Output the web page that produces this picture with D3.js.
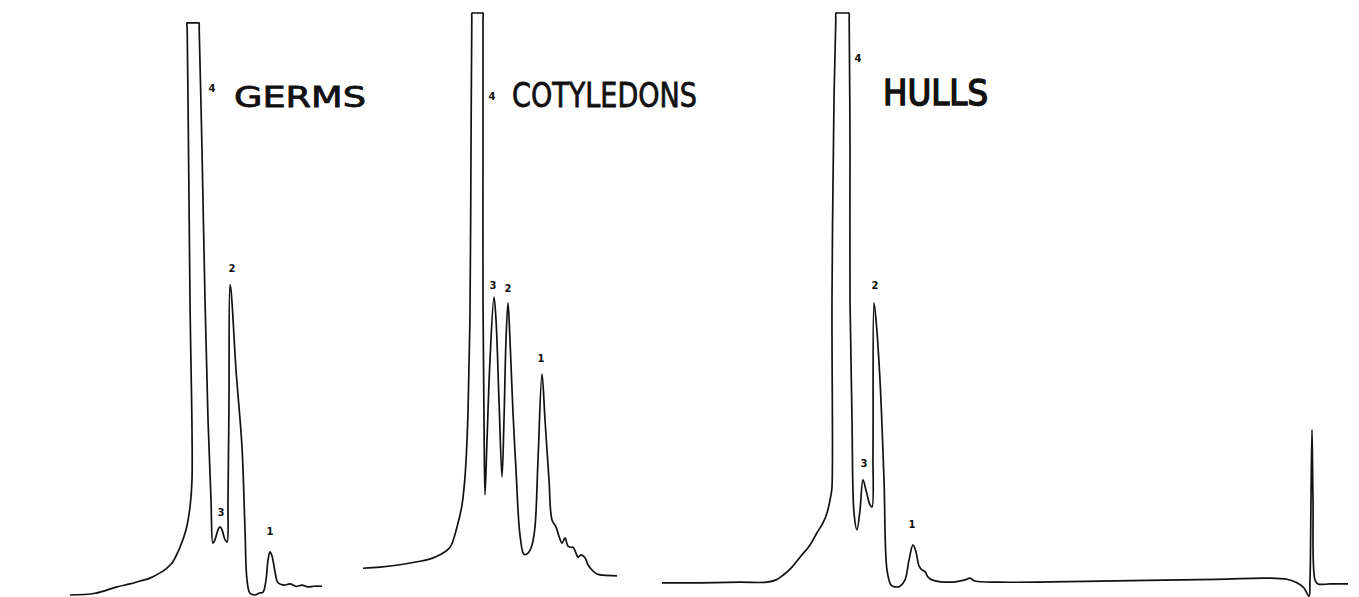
<!DOCTYPE html>
<html>
<head>
  <meta charset="utf-8">
  <title>chromatograms</title>
  <style>
    body { margin: 0; background: #fff; }
    .trace { fill: none; stroke: #111; stroke-width: 1.7; stroke-linejoin: round; }
    .peak { font-family: "DejaVu Sans", sans-serif; font-size: 10px; font-weight: bold; fill: #111; text-anchor: middle; }
    .title { font-family: "DejaVu Sans", sans-serif; fill: #111; stroke: #111; }
  </style>
</head>
<body>
<script src="https://d3js.org/d3.v7.min.js"></script>
<script>
  var width = 1359,
      height = 597;

  // position along the recorder sheet (cm x 10) and detector signal (% of full scale)
  var germsT = [7.0, 9.5, 11.7, 13.0, 14.0, 15.0, 16.0, 16.6, 17.2, 17.6, 18.0, 18.6, 19.0, 19.2, 19.0, 18.8, 18.72, 18.7, 18.78, 19.82, 19.9, 19.92, 20.2, 20.5, 20.8, 21.1, 21.3, 21.5, 21.8, 22.0, 22.2, 22.5, 22.7, 22.8, 22.9, 23.0, 23.1, 23.6, 24.2, 24.5, 24.7, 25.0, 25.5, 25.9, 26.3, 26.6, 26.8, 27.0, 27.2, 27.5, 27.8, 28.4, 29.0, 29.6, 30.2, 30.8, 31.4, 32.2];
  var germsSignal = [0, 0.3, 1.4, 1.9, 2.4, 2.9, 3.8, 4.5, 5.5, 6.7, 8.2, 11.2, 15.1, 19.8, 50.7, 85.4, 97.2, 98.3, 98.3, 98.3, 98.3, 97.2, 76.5, 50.7, 30.1, 16.3, 8.9, 9.5, 11.2, 11.7, 11.2, 9.5, 9.1, 16.3, 33.5, 53.3, 52.4, 38.7, 25.4, 11.2, 2.6, 0.3, 0, 0.3, 0.5, 2.6, 6.0, 7.4, 6.7, 4.0, 2.1, 1.7, 1.9, 1.5, 1.7, 1.4, 1.5, 1.5];

  var cotyT = [36.3, 38.0, 40.0, 42.0, 43.2, 44.0, 45.0, 45.7, 46.2, 46.5, 46.7, 46.8, 47.0, 47.1, 47.18, 47.2, 47.28, 48.22, 48.3, 48.3, 48.3, 48.3, 48.4, 48.5, 48.7, 49.0, 49.4, 49.6, 49.9, 50.2, 50.4, 50.6, 50.8, 51.0, 51.3, 51.6, 52.0, 52.4, 52.8, 53.2, 53.5, 53.8, 54.2, 54.5, 54.9, 55.2, 55.6, 55.9, 56.2, 56.5, 56.8, 57.1, 57.3, 57.6, 57.8, 58.1, 58.5, 58.8, 59.2, 59.7, 60.3, 61.7];
  var cotySignal = [4.6, 4.8, 5.2, 5.8, 6.3, 6.9, 8.2, 11.7, 15.5, 20.3, 26.6, 31.3, 48.5, 76.5, 98.8, 100, 100, 100, 100, 98.8, 76.5, 50.7, 30.1, 17.2, 26.6, 40.4, 51.2, 47.3, 33.5, 20.3, 30.1, 43.8, 50.2, 43.8, 31.3, 21.5, 10.3, 7.0, 7.2, 8.6, 11.7, 23.2, 38.0, 30.1, 19.8, 12.9, 11.7, 10.1, 8.9, 9.8, 8.4, 8.2, 8.2, 7.2, 6.5, 6.9, 6.4, 5.2, 4.3, 3.6, 3.4, 3.3];

  var hullsT = [66.2, 70.0, 74.0, 76.7, 77.6, 78.3, 79.2, 80.0, 81.0, 81.7, 82.3, 82.7, 83.1, 83.2, 83.2, 83.4, 83.58, 83.6, 83.68, 84.82, 84.9, 84.92, 85.0, 85.0, 85.2, 85.4, 85.7, 86.0, 86.3, 86.6, 87.0, 87.2, 87.3, 87.4, 87.6, 88.0, 88.4, 88.7, 89.1, 89.5, 90.0, 90.5, 90.9, 91.3, 91.6, 91.9, 92.2, 92.5, 92.8, 93.2, 95.0, 96.5, 97.0, 97.5, 100.0, 110.0, 121.7, 126.7, 128.7, 129.7, 130.4, 130.9, 131.0, 131.1, 131.2, 131.3, 131.5, 131.8, 133.0, 134.8];
  var hullsSignal = [2.1, 2.1, 2.2, 2.2, 2.6, 3.4, 4.8, 6.5, 8.6, 10.7, 12.4, 14.1, 17.2, 18.6, 50.7, 85.1, 98.8, 100, 100, 100, 100, 98.8, 76.5, 50.7, 30.1, 14.1, 11.2, 14.6, 19.8, 18.0, 15.5, 15.1, 24.9, 50.2, 47.3, 36.9, 19.8, 4.3, 1.7, 1.4, 1.5, 2.6, 6.0, 8.6, 7.4, 5.0, 4.3, 4.0, 3.1, 2.6, 2.2, 2.6, 2.9, 2.4, 2.2, 2.4, 2.7, 2.9, 2.7, 2.1, 1.2, -0.2, 2.6, 16.3, 28.4, 16.3, 2.6, 1.9, 1.9, 1.9];

  var sampleNames = ['GERMS', 'COTYLEDONS', 'HULLS'];
  var peakNames = ['4', '3', '2', '1'];
  // peak positions and heights for the labels (same units as the traces)
  var germsPeakT = [21.2, 22.1, 23.2, 27.0];
  var germsPeakSignal = [86.5, 13.5, 55.5, 10.3];
  var cotyPeakT = [49.2, 49.3, 50.8, 54.1];
  var cotyPeakSignal = [85.0, 52.5, 52.0, 40.0];
  var hullsPeakT = [85.8, 86.4, 87.5, 91.2];
  var hullsPeakSignal = [91.5, 22.0, 52.5, 11.5];

  var svg = d3.select('body')
    .append('svg')
    .attr('width', width)
    .attr('height', height);

  var xScale = d3.scaleLinear().domain([0, 135.9]).range([0, width]);
  var yScale = d3.scaleLinear().domain([0, 100]).range([595, 13]);

  var line = d3.line()
    .x(function(d) { return xScale(d[0]); })
    .y(function(d) { return yScale(d[1]); })
    .curve(d3.curveCatmullRom.alpha(0.5));

  var traces = [
    {t: germsT, s: germsSignal, pt: germsPeakT, ps: germsPeakSignal},
    {t: cotyT, s: cotySignal, pt: cotyPeakT, ps: cotyPeakSignal},
    {t: hullsT, s: hullsSignal, pt: hullsPeakT, ps: hullsPeakSignal}
  ];

  traces.forEach(function(tr) {
    svg.append('path')
      .attr('class', 'trace')
      .attr('d', line(d3.zip(tr.t, tr.s)));

    svg.selectAll(null)
      .data(peakNames)
      .enter()
      .append('text')
      .attr('class', 'peak')
      .attr('x', function(d, i) { return xScale(tr.pt[i]); })
      .attr('y', function(d, i) { return yScale(tr.ps[i]); })
      .text(function(d) { return d; });
  });

  // hand written sample names
  var titleX = [23.4, 51.2, 88.3];
  var titleY = [107, 107, 105];
  var titleSize = [28, 33, 36];
  var titleLen = [132, 185, 105];

  svg.selectAll('.title')
    .data(sampleNames)
    .enter()
    .append('text')
    .attr('class', 'title')
    .attr('x', function(d, i) { return xScale(titleX[i]); })
    .attr('y', function(d, i) { return titleY[i]; })
    .attr('font-size', function(d, i) { return titleSize[i]; })
    .attr('stroke-width', function(d, i) { return i == 2 ? 1.6 : 0.8; })
    .attr('textLength', function(d, i) { return titleLen[i]; })
    .attr('lengthAdjust', 'spacingAndGlyphs')
    .text(function(d) { return d; });

</script>
</body>
</html>
